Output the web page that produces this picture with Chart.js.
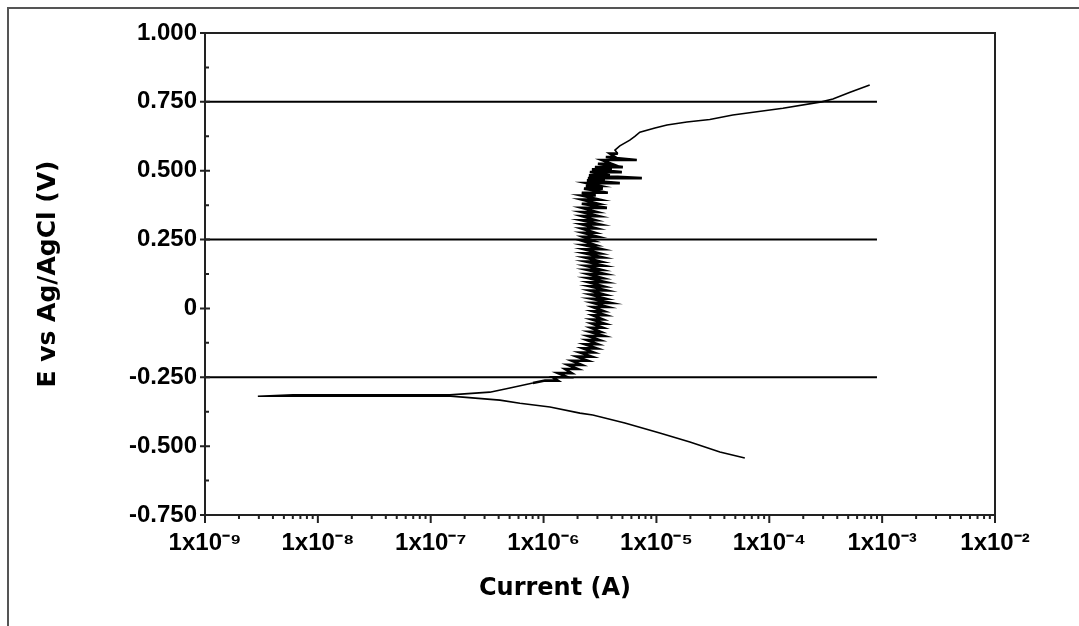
<!DOCTYPE html>
<html>
<head>
<meta charset="utf-8">
<script src="https://cdn.jsdelivr.net/npm/chart.js@4"></script>
<style>
body { margin: 0; background: #fff; }
</style>
</head>
<body>
<canvas id="tafelChart" width="1079" height="626"></canvas>
<script>
// cathodic branch, from the start of the scan down to Ecorr
const cathodicE = [-0.543, -0.521, -0.485, -0.452, -0.416, -0.387, -0.380, -0.358, -0.344, -0.333, -0.322];
const cathodicI = [6.07e-5, 3.65e-5, 1.98e-5, 1.07e-5, 5.25e-6, 2.73e-6, 2.10e-6, 1.14e-6, 6.17e-7, 4.10e-7, 1.93e-7];

// around Ecorr the current drops to almost nothing
const ecorrE = [-0.319, -0.319, -0.314, -0.314];
const ecorrI = [1.5e-7, 2.94e-9, 6.0e-9, 1.48e-7];

const anodicStartE = [-0.304, -0.289, -0.271];
const anodicStartI = [3.34e-7, 5.03e-7, 8.04e-7];

// passive region, noisy: each level has a low and a high reading
const bandE = [-0.262, -0.250, -0.235, -0.220, -0.205, -0.190, -0.175, -0.160, -0.145, -0.130,
  -0.115, -0.100, -0.085, -0.070, -0.055, -0.040, -0.025, -0.010,
  0.005, 0.020, 0.035, 0.050, 0.065, 0.080, 0.095, 0.110, 0.125, 0.140, 0.155, 0.170, 0.185, 0.200,
  0.215, 0.230, 0.245, 0.260, 0.275, 0.290, 0.305, 0.320, 0.335, 0.350, 0.365, 0.380, 0.395, 0.410,
  0.420, 0.435, 0.445, 0.455, 0.465, 0.473, 0.483, 0.495, 0.505, 0.513, 0.525, 0.539, 0.550, 0.562];
const bandLow = [1.03e-6, 1.21e-6, 1.34e-6, 1.55e-6, 1.64e-6, 1.78e-6, 1.97e-6, 2.10e-6, 2.23e-6, 2.32e-6,
  2.42e-6, 2.47e-6, 2.57e-6, 2.62e-6, 2.68e-6, 2.68e-6, 2.73e-6, 2.73e-6,
  2.73e-6, 2.73e-6, 2.68e-6, 2.62e-6, 2.57e-6, 2.57e-6, 2.52e-6, 2.47e-6, 2.47e-6, 2.42e-6, 2.37e-6, 2.37e-6, 2.32e-6, 2.32e-6,
  2.28e-6, 2.28e-6, 2.23e-6, 2.23e-6, 2.23e-6, 2.18e-6, 2.18e-6, 2.18e-6, 2.18e-6, 2.18e-6, 2.18e-6, 2.18e-6, 2.18e-6, 2.18e-6,
  2.18e-6, 2.28e-6, 2.37e-6, 2.42e-6, 2.42e-6, 2.47e-6, 2.52e-6, 2.57e-6, 2.68e-6, 2.85e-6, 3.03e-6, 3.28e-6, 3.56e-6, 3.87e-6];
const bandHigh = [1.34e-6, 1.64e-6, 1.78e-6, 2.01e-6, 2.18e-6, 2.47e-6, 2.68e-6, 2.79e-6, 2.97e-6, 3.03e-6,
  3.15e-6, 3.42e-6, 3.22e-6, 3.35e-6, 3.49e-6, 3.35e-6, 3.56e-6, 3.42e-6,
  3.71e-6, 3.95e-6, 3.56e-6, 3.49e-6, 3.64e-6, 3.42e-6, 3.56e-6, 3.35e-6, 3.49e-6, 3.28e-6, 3.42e-6, 3.22e-6, 3.35e-6, 3.15e-6,
  3.28e-6, 2.90e-6, 2.79e-6, 3.03e-6, 2.85e-6, 2.97e-6, 3.15e-6, 2.90e-6, 3.09e-6, 2.97e-6, 3.64e-6, 3.03e-6, 3.15e-6, 2.90e-6,
  3.71e-6, 3.35e-6, 3.15e-6, 4.74e-6, 3.49e-6, 7.43e-6, 3.87e-6, 4.94e-6, 4.03e-6, 5.04e-6, 4.03e-6, 6.70e-6, 4.29e-6, 4.55e-6];

// breakdown / transpassive part
const upperE = [0.575, 0.590, 0.611, 0.625, 0.640, 0.655, 0.666, 0.677, 0.686, 0.702, 0.727, 0.750, 0.760, 0.785, 0.811];
const upperI = [4.29e-6, 4.74e-6, 5.81e-6, 6.44e-6, 7.13e-6, 9.7e-6, 1.24e-5, 1.86e-5, 2.97e-5, 4.75e-5, 1.32e-4, 2.9e-4, 3.66e-4, 5.2e-4, 7.76e-4];

// horizontal reference lines
const refLevels = [0.75, 0.25, -0.25];
const refStart = 1e-9;
const refEnd = 9e-4;

const xTickValues = [1e-9, 1e-8, 1e-7, 1e-6, 1e-5, 1e-4, 1e-3, 1e-2];
const xTickLabels = ['1x10⁻⁹', '1x10⁻⁸', '1x10⁻⁷', '1x10⁻⁶', '1x10⁻⁵', '1x10⁻⁴', '1x10⁻³', '1x10⁻²'];
const yTickValues = [-0.75, -0.5, -0.25, 0, 0.25, 0.5, 0.75, 1.0];
const yTickLabels = ['-0.750', '-0.500', '-0.250', '0', '0.250', '0.500', '0.750', '1.000'];

const lowerPoints = [];
cathodicE.forEach((e, i) => lowerPoints.push({x: cathodicI[i], y: e}));
ecorrE.forEach((e, i) => lowerPoints.push({x: ecorrI[i], y: e}));
anodicStartE.forEach((e, i) => lowerPoints.push({x: anodicStartI[i], y: e}));

const bandPoints = [lowerPoints[lowerPoints.length - 1]];
bandE.forEach((e, i) => {
    bandPoints.push({x: bandLow[i], y: e});
    bandPoints.push({x: bandHigh[i], y: e});
});

const upperPoints = [bandPoints[bandPoints.length - 1]];
upperE.forEach((e, i) => upperPoints.push({x: upperI[i], y: e}));

const frameAndTicks = {
    id: 'frameAndTicks',
    beforeDraw(chart) {
        const ctx = chart.ctx;
        ctx.save();
        ctx.fillStyle = '#fff';
        ctx.fillRect(0, 0, chart.width, chart.height);
        ctx.strokeStyle = '#555';
        ctx.lineWidth = 2;
        ctx.beginPath();
        ctx.moveTo(8, chart.height);
        ctx.lineTo(8, 8);
        ctx.lineTo(chart.width, 8);
        ctx.stroke();
        ctx.restore();
    },
    afterDraw(chart) {
        const {ctx, chartArea: a, scales: {x, y}} = chart;
        ctx.save();
        ctx.strokeStyle = '#222';
        ctx.lineWidth = 2;
        ctx.strokeRect(a.left, a.top, a.right - a.left, a.bottom - a.top);
        ctx.beginPath();
        for (let d = -9; d <= -2; d++) {
            const px = x.getPixelForValue(Math.pow(10, d));
            ctx.moveTo(px, a.bottom); ctx.lineTo(px, a.bottom + 8);
            if (d < -2) {
                for (let k = 2; k < 10; k++) {
                    const mx = x.getPixelForValue(k * Math.pow(10, d));
                    ctx.moveTo(mx, a.bottom); ctx.lineTo(mx, a.bottom + 4);
                }
            }
        }
        yTickValues.forEach((v, i) => {
            const py = y.getPixelForValue(v);
            ctx.moveTo(a.left - 5, py); ctx.lineTo(a.left + 5, py);
            if (i < yTickValues.length - 1) {
                const my = y.getPixelForValue(v + 0.125);
                ctx.moveTo(a.left, my); ctx.lineTo(a.left + 4, my);
            }
        });
        ctx.stroke();
        // x axis title sits left of the plot centre in the original
        ctx.fillStyle = '#000';
        ctx.font = 'bold 24px "DejaVu Sans"';
        ctx.textAlign = 'center';
        ctx.textBaseline = 'middle';
        ctx.fillText('Current (A)', 555, 589);
        ctx.restore();
    }
};

const tickFont = {family: 'Liberation Sans', size: 24, weight: 'bold'};
const titleFont = {family: 'DejaVu Sans', size: 25, weight: 'bold'};

const lineStyle = {showLine: true, borderColor: '#000', pointRadius: 0};

new Chart(document.getElementById('tafelChart').getContext('2d'), {
    type: 'scatter',
    data: {
        datasets: [
            Object.assign({label: 'cathodic', data: lowerPoints, borderWidth: 1.6}, lineStyle),
            Object.assign({label: 'passive', data: bandPoints, borderWidth: 2.6}, lineStyle),
            Object.assign({label: 'transpassive', data: upperPoints, borderWidth: 1.6}, lineStyle)
        ].concat(refLevels.map(lvl => Object.assign({
            label: 'E = ' + lvl,
            data: [{x: refStart, y: lvl}, {x: refEnd, y: lvl}],
            borderWidth: 2
        }, lineStyle)))
    },
    options: {
        responsive: false,
        animation: false,
        layout: {padding: {left: 0, top: 33, right: 84, bottom: 0}},
        plugins: {
            legend: {display: false},
            tooltip: {enabled: false}
        },
        scales: {
            x: {
                type: 'logarithmic',
                min: 1e-9,
                max: 1e-2,
                afterBuildTicks: axis => { axis.ticks = xTickValues.map(v => ({value: v})); },
                afterFit: axis => { axis.height = 111; },
                grid: {display: false},
                border: {display: false},
                ticks: {
                    autoSkip: false,
                    maxRotation: 0,
                    padding: 6,
                    color: '#000',
                    font: tickFont,
                    callback: (v, i) => xTickLabels[i]
                }
            },
            y: {
                min: -0.75,
                max: 1.0,
                afterBuildTicks: axis => { axis.ticks = yTickValues.map(v => ({value: v})); },
                afterFit: axis => { axis.width = 205; },
                grid: {display: false},
                border: {display: false},
                ticks: {
                    padding: 0,
                    color: '#000',
                    font: tickFont,
                    callback: (v, i) => yTickLabels[i]
                },
                title: {
                    display: true,
                    text: 'E vs Ag/AgCl (V)',
                    color: '#000',
                    font: titleFont,
                    padding: {top: 33, bottom: 0}
                }
            }
        }
    },
    plugins: [frameAndTicks]
});
</script>
</body>
</html>
